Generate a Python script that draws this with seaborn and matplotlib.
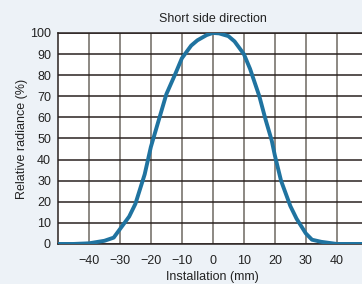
import matplotlib
matplotlib.use("Agg")
import matplotlib.pyplot as plt
import seaborn as sns
import pandas as pd

# radiance profile
position_mm = [-50, -45, -40, -35, -32, -30, -27, -25, -22, -20, -17, -15, -12, -10, -7, -5, -2, 0,
               2, 5, 7, 10, 12, 15, 17, 19, 20, 22, 25, 27, 30, 32, 35, 40, 45, 50]
radiance = [0, 0, 0.3, 1.5, 3, 7, 13, 19, 33, 46, 61, 71, 81, 88, 94, 96.5, 99, 100,
            99.8, 98.5, 96, 90, 83, 70, 59, 49, 42, 30, 18, 12, 5, 2, 1, 0, 0, 0]
x_ticks = [-40, -30, -20, -10, 0, 10, 20, 30, 40]
y_ticks = [0, 10, 20, 30, 40, 50, 60, 70, 80, 90, 100]

df = pd.DataFrame({"pos": position_mm, "rad": radiance})

sns.set_style("white")
plt.rcParams["font.family"] = ["Liberation Sans", "DejaVu Sans"]

fig = plt.figure(figsize=(3.62, 2.84), dpi=100, facecolor="#edf2f7")
ax = fig.add_axes([0.160, 0.141, 0.856, 0.743])
ax.set_facecolor("white")

for xv in x_ticks:
    ax.axvline(xv, color="#6e6862", lw=1.1, zorder=1)
for yv in y_ticks:
    ax.axhline(yv, color="#2a2220", lw=1.1, zorder=1)

sns.lineplot(data=df, x="pos", y="rad", ax=ax, color="#1f73a0", lw=2.8, zorder=3)

ax.set_xlim(-50, 50)
ax.set_ylim(0, 100)
ax.set_xticks(x_ticks)
ax.set_yticks(y_ticks)
ax.tick_params(axis="y", length=0, labelsize=9, colors="#222222", pad=5)
ax.tick_params(axis="x", length=0, labelsize=9, colors="#222222", pad=8)
for s in ax.spines.values():
    s.set_color("#2a2220")
    s.set_linewidth(1.1)

ax.set_title("Short side direction", fontsize=9, color="#222222", pad=8)
ax.set_xlabel("Installation (mm)", fontsize=9, color="#222222")
ax.set_ylabel("Relative radiance (%)", fontsize=9, color="#222222")
ax.xaxis.set_label_coords(0.5, -0.13)
ax.yaxis.set_label_coords(-0.095, 0.5)

fig.savefig("out.png", dpi=100, facecolor=fig.get_facecolor())
